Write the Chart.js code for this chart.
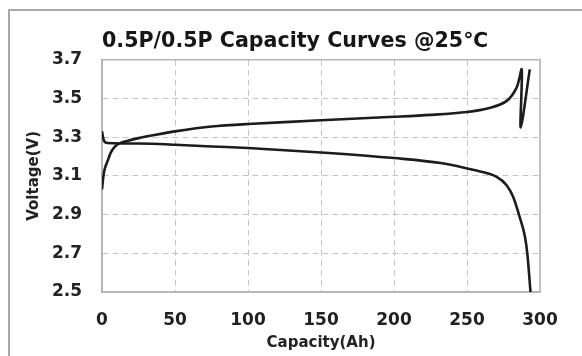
<!DOCTYPE html>
<html>
<head>
<meta charset="utf-8">
<title>0.5P/0.5P Capacity Curves</title>
<script src="https://cdn.jsdelivr.net/npm/chart.js"></script>
<style>
  html, body { margin: 0; padding: 0; background: #fff; }
  #wrap { position: relative; width: 582px; height: 356px; }
  #frame {
    position: absolute; left: 8px; top: 9px; right: 0; bottom: 0;
    border-left: 2px solid #a8a8a8; border-top: 2px solid #a8a8a8;
    pointer-events: none;
  }
</style>
</head>
<body>
<div id="wrap">
  <canvas id="cv" width="582" height="356"></canvas>
  <div id="frame"></div>
</div>
<script>
// chart data
const titleText = '0.5P/0.5P Capacity Curves @25\u2103';
const xTitle = 'Capacity(Ah)';
const yTitle = 'Voltage(V)';

// charge curve (capacity Ah, voltage V)
const chargeCap  = [0, 1, 2, 4, 6, 9, 12, 16, 25, 35, 50, 75, 100, 150, 200, 225, 250, 266, 277, 284, 287.5, 286.8, 293];
const chargeVolt = [3.03, 3.10, 3.14, 3.18, 3.22, 3.252, 3.268, 3.278, 3.295, 3.31, 3.33, 3.355, 3.368, 3.387, 3.405, 3.415, 3.43, 3.452, 3.486, 3.556, 3.65, 3.35, 3.65];

// discharge curve
const dischargeCap  = [0, 1, 2, 4, 25, 50, 75, 100, 150, 200, 232, 254, 270, 277, 281.6, 286, 289.7, 291.3, 293.5];
const dischargeVolt = [3.33, 3.29, 3.275, 3.27, 3.267, 3.261, 3.252, 3.244, 3.221, 3.192, 3.166, 3.131, 3.096, 3.053, 2.992, 2.889, 2.785, 2.70, 2.50];

const xMin = 0, xMax = 300, xStep = 50;
const yMin = 2.5, yMax = 3.7, yStep = 0.2;

function toPoints(xs, ys) {
  return xs.map((x, i) => ({ x: x, y: ys[i] }));
}

// solid frame around the plot area
const plotFrame = {
  id: 'plotFrame',
  beforeDatasetsDraw(chart) {
    const a = chart.chartArea;
    const ctx = chart.ctx;
    ctx.save();
    ctx.strokeStyle = '#b4b4b4';
    ctx.lineWidth = 1.5;
    ctx.strokeRect(a.left, a.top, a.right - a.left, a.bottom - a.top);
    ctx.restore();
  }
};

const fontFamily = '"DejaVu Sans", "Liberation Sans", Arial, sans-serif';
const lineColor = '#1c1c1c';

new Chart(document.getElementById('cv'), {
  type: 'line',
  data: {
    datasets: [
      {
        label: 'Charge',
        data: toPoints(chargeCap, chargeVolt),
        borderColor: lineColor,
        borderWidth: 2.6,
        pointRadius: 0,
        tension: 0.3,
        fill: false
      },
      {
        label: 'Discharge',
        data: toPoints(dischargeCap, dischargeVolt),
        borderColor: lineColor,
        borderWidth: 2.6,
        pointRadius: 0,
        cubicInterpolationMode: 'monotone',
        fill: false
      }
    ]
  },
  options: {
    responsive: false,
    animation: false,
    layout: { padding: { left: 15, right: 42, top: 0, bottom: 0 } },
    plugins: {
      legend: { display: false },
      tooltip: { enabled: false },
      title: {
        display: true,
        text: titleText,
        align: 'start',
        fullSize: false,
        color: '#161616',
        font: { family: fontFamily, size: 20.6, weight: 'bold' },
        padding: { top: 29, bottom: 6 }
      }
    },
    scales: {
      x: {
        type: 'linear',
        min: xMin,
        max: xMax,
        afterFit: s => { s.height = 64; },
        ticks: {
          stepSize: xStep,
          color: '#222',
          padding: 18,
          maxRotation: 0,
          font: { family: fontFamily, size: 17, weight: 'bold' }
        },
        grid: { color: '#c4c4c4', lineWidth: 1, drawTicks: false },
        border: { display: true, color: '#b4b4b4', width: 1.5, dash: [6, 4] },
        title: {
          display: true,
          text: xTitle,
          color: '#222',
          font: { family: fontFamily, size: 15, weight: 'bold' },
          padding: { top: 4, bottom: 4 }
        }
      },
      y: {
        min: yMin,
        max: yMax,
        afterFit: s => { s.width = 87; },
        ticks: {
          stepSize: yStep,
          color: '#222',
          padding: 20,
          font: { family: fontFamily, size: 17, weight: 'bold' },
          callback: v => Number(v).toFixed(1)
        },
        grid: { color: '#c4c4c4', lineWidth: 1, drawTicks: false },
        border: { display: true, color: '#b4b4b4', width: 1.5, dash: [6, 4] },
        title: {
          display: true,
          text: yTitle,
          color: '#222',
          font: { family: fontFamily, size: 15, weight: 'bold' },
          padding: { top: 10, bottom: 9 }
        }
      }
    }
  },
  plugins: [plotFrame]
});
</script>
</body>
</html>
